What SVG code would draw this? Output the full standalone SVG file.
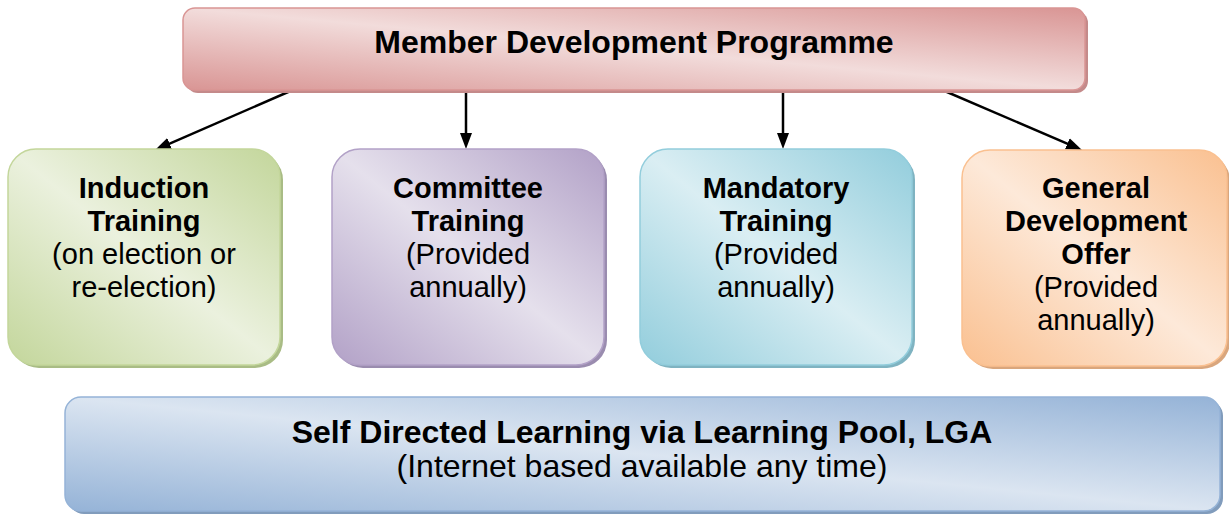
<svg xmlns="http://www.w3.org/2000/svg" width="1229" height="517" viewBox="0 0 1229 517">
<style>
  text { font-family: "Liberation Sans", Arial, sans-serif; fill: #000; text-anchor: middle; }
  .b { font-weight: bold; }
  .t29 { font-size: 29px; }
  .t32 { font-size: 32px; }
  .conn { stroke: #000; stroke-width: 2.5; fill: none; marker-end: url(#arrow); }
</style>
<defs>
  <marker id="arrow" markerUnits="userSpaceOnUse" markerWidth="18" markerHeight="14" refX="10" refY="6" orient="auto">
    <path d="M0,0 L16,6 L0,12 z" fill="#000"/>
  </marker>
  <linearGradient id="gPink" x1="0" y1="1" x2="1" y2="0">
    <stop offset="0" stop-color="#d99594"/>
    <stop offset="0.5" stop-color="#f2dcdb"/>
    <stop offset="1" stop-color="#d99594"/>
  </linearGradient>
  <linearGradient id="gGreen" x1="0" y1="1" x2="1" y2="0">
    <stop offset="0" stop-color="#c3d69b"/>
    <stop offset="0.5" stop-color="#ebf1de"/>
    <stop offset="1" stop-color="#c3d69b"/>
  </linearGradient>
  <linearGradient id="gPurple" x1="0" y1="1" x2="1" y2="0">
    <stop offset="0" stop-color="#b2a1c7"/>
    <stop offset="0.5" stop-color="#e5e0ec"/>
    <stop offset="1" stop-color="#b2a1c7"/>
  </linearGradient>
  <linearGradient id="gAqua" x1="0" y1="1" x2="1" y2="0">
    <stop offset="0" stop-color="#92cddc"/>
    <stop offset="0.5" stop-color="#daeef3"/>
    <stop offset="1" stop-color="#92cddc"/>
  </linearGradient>
  <linearGradient id="gOrange" x1="0" y1="1" x2="1" y2="0">
    <stop offset="0" stop-color="#fac090"/>
    <stop offset="0.5" stop-color="#fde9d9"/>
    <stop offset="1" stop-color="#fac090"/>
  </linearGradient>
  <linearGradient id="gBlue" x1="0" y1="1" x2="1" y2="0">
    <stop offset="0" stop-color="#95b3d7"/>
    <stop offset="0.5" stop-color="#dbe5f1"/>
    <stop offset="1" stop-color="#95b3d7"/>
  </linearGradient>
</defs>

<g id="connectors">
  <line class="conn" x1="295" y1="89" x2="160.5" y2="147.6"/>
  <line class="conn" x1="466" y1="89" x2="466" y2="143"/>
  <line class="conn" x1="783" y1="89" x2="783" y2="143"/>
  <line class="conn" x1="940" y1="89" x2="1076.5" y2="147.6"/>
</g>

<g id="node-programme">
  <rect x="186" y="11" width="902" height="82" rx="12" fill="#c48a8a"/>
  <rect x="183" y="8" width="902" height="82" rx="12" fill="url(#gPink)" stroke="#d99594" stroke-width="1.5"/>
  <text class="b t32" x="634" y="53">Member Development Programme</text>
</g>

<g id="node-induction">
  <rect x="11" y="152" width="272" height="216" rx="28" fill="#a9bc85"/>
  <rect x="8" y="149" width="272" height="216" rx="28" fill="url(#gGreen)" stroke="#c3d69b" stroke-width="1.5"/>
  <text class="t29" x="144"><tspan class="b" x="144" y="198">Induction</tspan><tspan class="b" x="144" y="231">Training</tspan><tspan x="144" y="264">(on election or</tspan><tspan x="144" y="297">re-election)</tspan></text>
</g>

<g id="node-committee">
  <rect x="335" y="152" width="272" height="216" rx="28" fill="#9a8caf"/>
  <rect x="332" y="149" width="272" height="216" rx="28" fill="url(#gPurple)" stroke="#b2a1c7" stroke-width="1.5"/>
  <text class="t29" x="468"><tspan class="b" x="468" y="198">Committee</tspan><tspan class="b" x="468" y="231">Training</tspan><tspan x="468" y="264">(Provided</tspan><tspan x="468" y="297">annually)</tspan></text>
</g>

<g id="node-mandatory">
  <rect x="643" y="152" width="272" height="216" rx="28" fill="#7fb3c1"/>
  <rect x="640" y="149" width="272" height="216" rx="28" fill="url(#gAqua)" stroke="#92cddc" stroke-width="1.5"/>
  <text class="t29" x="776"><tspan class="b" x="776" y="198">Mandatory</tspan><tspan class="b" x="776" y="231">Training</tspan><tspan x="776" y="264">(Provided</tspan><tspan x="776" y="297">annually)</tspan></text>
</g>

<g id="node-general">
  <rect x="965" y="153" width="265" height="216" rx="28" fill="#d9a67d"/>
  <rect x="962" y="150" width="265" height="216" rx="28" fill="url(#gOrange)" stroke="#fac090" stroke-width="1.5"/>
  <text class="t29" x="1096"><tspan class="b" x="1096" y="198">General</tspan><tspan class="b" x="1096" y="231">Development</tspan><tspan class="b" x="1096" y="264">Offer</tspan><tspan x="1096" y="297">(Provided</tspan><tspan x="1096" y="330">annually)</tspan></text>
</g>

<g id="node-self-directed">
  <rect x="68" y="400" width="1155" height="114" rx="16" fill="#819cbc"/>
  <rect x="65" y="397" width="1155" height="114" rx="16" fill="url(#gBlue)" stroke="#95b3d7" stroke-width="1.5"/>
  <text class="t32" x="642"><tspan class="b" x="642" y="443">Self Directed Learning via Learning Pool, LGA</tspan><tspan x="642" y="477">(Internet based available any time)</tspan></text>
</g>
</svg>
